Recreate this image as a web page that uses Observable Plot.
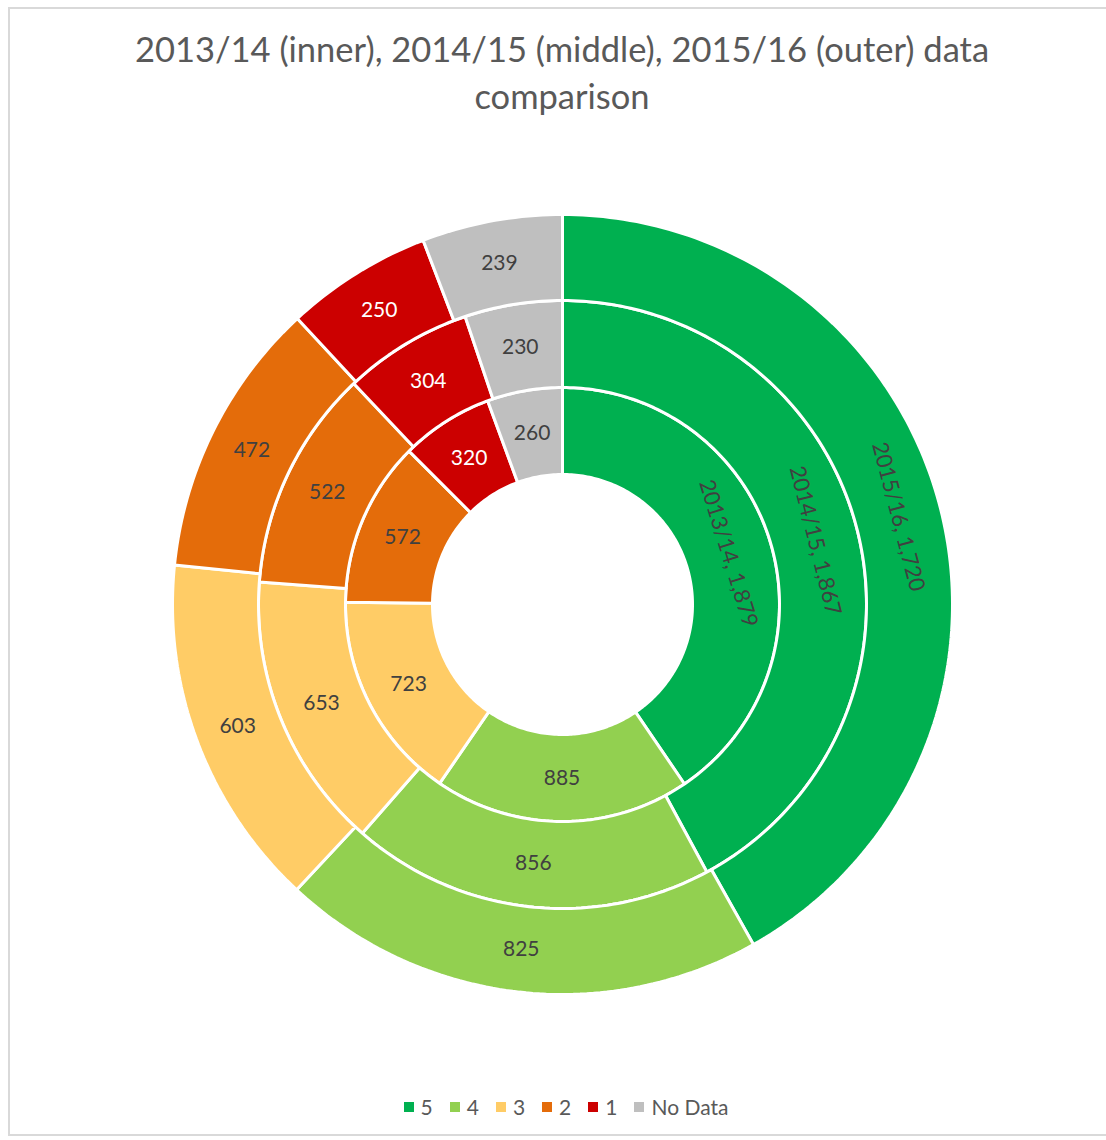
<!DOCTYPE html>
<html>
<head>
<meta charset="utf-8">
<script src="https://cdn.jsdelivr.net/npm/d3@7"></script>
<script src="https://cdn.jsdelivr.net/npm/@observablehq/plot@0.6"></script>
<style>
  html, body { margin: 0; padding: 0; background: #fff; }
  body { width: 1106px; height: 1140px; position: relative; overflow: hidden; font-family: Lato, "Open Sans", sans-serif; }
  #frame { position: absolute; left: 8px; top: 7px; width: 1120px; height: 1129px; border: 2px solid #d9d9d9; box-sizing: border-box; }
  #title { position: absolute; left: 62px; width: 1000px; top: 25px; text-align: center; color: #595959; font-size: 34.5px; line-height: 47px; }
  #chart { position: absolute; left: 0; top: 194px; }
  #legend { position: absolute; left: 0; width: 1132px; top: 1094px; display: flex; justify-content: center; gap: 17px; color: #595959; font-size: 21px; line-height: 26px; }
  #legend .item { display: flex; align-items: center; }
  #legend .sw { width: 10px; height: 10px; margin-right: 7px; }
</style>
</head>
<body>
<div id="frame"></div>
<div id="title"></div>
<div id="chart"></div>
<div id="legend"></div>
<script>
const titleLines = ["2013/14 (inner), 2014/15 (middle), 2015/16 (outer) data", "comparison"];
const categories = ["5", "4", "3", "2", "1", "No Data"];
const years = ["2013/14", "2014/15", "2015/16"];
const values2013 = [1879, 885, 723, 572, 320, 260];
const values2014 = [1867, 856, 653, 522, 304, 230];
const values2015 = [1720, 825, 603, 472, 250, 239];
const colors = ["#00B050", "#92D050", "#FFCC66", "#E46C0A", "#CC0000", "#BFBFBF"];
const labelColors = ["#404040", "#404040", "#404040", "#404040", "#ffffff", "#404040"];

// ring radii in pixels (hole, inner, middle, outer)
const radii = [130, 217, 304, 390];
const seriesValues = [values2013, values2014, values2015];

document.getElementById("title").innerHTML = titleLines.join("<br>");

const polys = [];
const labels = [];
seriesValues.forEach((vals, ring) => {
  const total = d3.sum(vals);
  const r0 = radii[ring], r1 = radii[ring + 1];
  let cum = 0;
  vals.forEach((v, i) => {
    const a0 = cum / total * 2 * Math.PI;
    cum += v;
    const a1 = cum / total * 2 * Math.PI;
    const n = Math.max(2, Math.ceil((a1 - a0) * 180 / Math.PI));
    const id = ring + "-" + i;
    const pts = [];
    for (let k = 0; k <= n; k++) {
      const a = a0 + (a1 - a0) * k / n;
      pts.push({id, cat: categories[i], x: r1 * Math.sin(a), y: r1 * Math.cos(a)});
    }
    for (let k = n; k >= 0; k--) {
      const a = a0 + (a1 - a0) * k / n;
      pts.push({id, cat: categories[i], x: r0 * Math.sin(a), y: r0 * Math.cos(a)});
    }
    pts.push({...pts[0]});
    polys.push(...pts);
    const am = (a0 + a1) / 2;
    const rm = (r0 + r1) / 2;
    const isFirst = i === 0;
    labels.push({
      x: rm * Math.sin(am),
      y: rm * Math.cos(am),
      text: isFirst ? `${years[ring]}, ${d3.format(",")(v)}` : d3.format(",")(v),
      color: labelColors[i],
      rotate: isFirst ? am * 180 / Math.PI : 0,
      size: isFirst ? 22 : 21
    });
  });
});

const chart = Plot.plot({
  width: 1106,
  height: 820,
  margin: 0,
  style: {background: "transparent"},
  x: {domain: [-562, 1106 - 562], axis: null},
  y: {domain: [-410, 410], axis: null},
  color: {domain: categories, range: colors},
  marks: [
    Plot.line(polys, {x: "x", y: "y", z: "id", fill: "cat", stroke: "#ffffff", strokeWidth: 3, strokeLinejoin: "miter"}),
    Plot.text(labels.filter(d => d.size === 21), {x: "x", y: "y", text: "text", fill: "color", fontSize: 21, fontFamily: "Lato, 'Open Sans', sans-serif"}),
    Plot.text(labels.filter(d => d.size === 22), {x: "x", y: "y", text: "text", fill: "color", rotate: "rotate", fontSize: 22, fontFamily: "Lato, 'Open Sans', sans-serif"})
  ]
});
document.getElementById("chart").appendChild(chart);

const legend = document.getElementById("legend");
categories.forEach((c, i) => {
  const item = document.createElement("div");
  item.className = "item";
  const sw = document.createElement("div");
  sw.className = "sw";
  sw.style.background = colors[i];
  const t = document.createElement("span");
  t.textContent = c;
  item.appendChild(sw);
  item.appendChild(t);
  legend.appendChild(item);
});
</script>
</body>
</html>
